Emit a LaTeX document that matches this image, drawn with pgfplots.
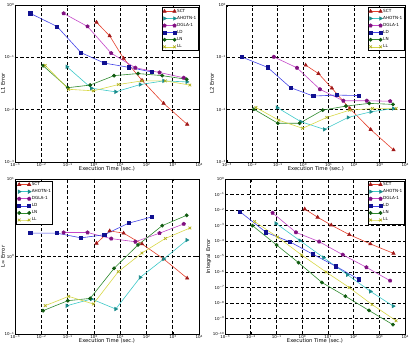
\documentclass[border=0pt]{standalone}
\usepackage{fontspec}
\setmainfont{DejaVu Sans}
\usepackage{pgfplots}
\pgfplotsset{compat=1.18}
\usetikzlibrary{plotmarks}

\definecolor{cSCT}{HTML}{E4402C}
\definecolor{dSCT}{HTML}{A01818}
\definecolor{cAH}{HTML}{3CC8C8}
\definecolor{dAH}{HTML}{1A8A8A}
\definecolor{cDG}{HTML}{C448C8}
\definecolor{dDG}{HTML}{801080}
\definecolor{cLD}{HTML}{4444E8}
\definecolor{dLD}{HTML}{101090}
\definecolor{cLN}{HTML}{2E8A2E}
\definecolor{dLN}{HTML}{105A10}
\definecolor{cLL}{HTML}{D8D848}
\definecolor{dLL}{HTML}{B0B020}

\newcommand\explabel{\pgfmathtruncatemacro\myexp{round(\tick)}10\raisebox{0.55ex}{\fontsize{2.8}{3}\selectfont\ifnum\myexp<0 −\number-\myexp\else\myexp\fi}}

\pgfplotsset{
  legend image code/.code={\draw[mark repeat=2,mark phase=1,#1] plot coordinates {(0pt,0pt) (5pt,0pt) (10pt,0pt)};},
  myax/.style={
    scale only axis, log basis x=10, log basis y=10,
    xmin=1e-3, xmax=1e4,
    xtickten={-3,...,4},
    grid=major,
    major grid style={black, line width=0.45pt, dash pattern=on 3.2pt off 2.2pt},
    axis line style={line width=0.6pt},
    tick style={black, line width=0.4pt},
    major tick length=2.5pt, minor tick length=1.4pt,
    tick align=inside,
    xticklabel={\explabel},
    yticklabel={\explabel},
    tick label style={font=\fontsize{4}{4}\selectfont},
    xticklabel style={inner sep=1pt},
    yticklabel style={inner sep=1pt},
    label style={font=\fontsize{5.2}{6}\selectfont},
    xlabel={Execution Time (sec.)},
    xlabel style={at={(axis description cs:0.5,-0.045)}, anchor=center},
    legend style={font=\fontsize{4.2}{4.5}\selectfont, draw=black, line width=0.4pt,
      inner sep=0.8pt, nodes={inner sep=0.7pt}, cells={anchor=west}, row sep=1.1pt},
  },
  sSCT/.style={color=cSCT, line width=0.6pt, mark size=1.9pt, mark=triangle*, mark options={solid, fill=dSCT, draw=dSCT}},
  sAH/.style={color=cAH, line width=0.6pt, mark size=1.9pt, mark=triangle*, mark options={solid, rotate=-90, fill=dAH, draw=dAH}},
  sDG/.style={color=cDG, line width=0.6pt, mark size=1.8pt, mark=pentagon*, mark options={solid, fill=dDG, draw=dDG}},
  sLD/.style={color=cLD, line width=0.6pt, mark size=1.6pt, mark=square*, mark options={solid, fill=dLD, draw=dLD}},
  sLN/.style={color=cLN, line width=0.6pt, mark size=1.6pt, mark=*, mark options={solid, fill=dLN, draw=dLN}},
  sLL/.style={color=cLL, line width=0.6pt, mark size=1.9pt, mark=x, mark options={solid, draw=dLL, line width=0.7pt}},
}

\begin{document}
\begin{tikzpicture}
% ---------------- Panel 1: L1 ----------------
\begin{loglogaxis}[myax, at={(15pt,186pt)}, anchor=south west, width=184pt, height=157pt,
  ymin=1e-3, ymax=1, ytickten={-3,...,0},
  ylabel={L1 Error}, ylabel style={at={(axis description cs:-0.065,0.5)}, anchor=center},
  legend style={at={(0.995,0.985)}, anchor=north east}]
\addplot[sSCT] coordinates {(1.26,0.468) (4.0,0.257) (13.5,0.0955) (68,0.0363) (450,0.0132) (3550,0.00525)};
\addlegendentry{SCT}
\addplot[sAH] coordinates {(0.095,0.0661) (0.81,0.0257) (6.8,0.0219) (58,0.0302) (455,0.0355) (3470,0.0339)};
\addlegendentry{AHOTN-1}
\addplot[sDG] coordinates {(0.0708,0.692) (0.575,0.389) (4.57,0.120) (38,0.0631) (316,0.0513) (2630,0.0407)};
\addlegendentry{DGLA-1}
\addplot[sLD] coordinates {(0.0038,0.692) (0.0398,0.389) (0.324,0.123) (2.51,0.0776) (20.9,0.0646) (158,0.0525)};
\addlegendentry{LD}
\addplot[sLN] coordinates {(0.0117,0.0692) (0.102,0.0263) (0.724,0.0295) (5.89,0.0447) (47.9,0.049) (398,0.0447) (3400,0.038)};
\addlegendentry{LN}
\addplot[sLL] coordinates {(0.0141,0.070) (0.110,0.0245) (0.955,0.0229) (8.51,0.0302) (67.6,0.0355) (525,0.0355) (4500,0.0295)};
\addlegendentry{LL}
\end{loglogaxis}

% ---------------- Panel 2: L2 ----------------
\begin{loglogaxis}[myax, at={(226.7pt,186pt)}, anchor=south west, width=178.3pt, height=157pt,
  ymin=1e-3, ymax=1, ytickten={-3,...,0},
  ylabel={L2 Error}, ylabel style={at={(axis description cs:-0.083,0.5)}, anchor=center},
  legend style={at={(0.995,0.985)}, anchor=north east}]
\addplot[sSCT] coordinates {(1.26,0.0708) (4.0,0.049) (13.5,0.0257) (68,0.0105) (450,0.00417) (3550,0.0017)};
\addlegendentry{SCT}
\addplot[sAH] coordinates {(0.095,0.011) (0.81,0.0059) (6.8,0.0042) (58,0.0071) (455,0.0091) (3470,0.0105)};
\addlegendentry{AHOTN-1}
\addplot[sDG] coordinates {(0.0708,0.102) (0.575,0.063) (4.57,0.0245) (38,0.0148) (316,0.0148) (2630,0.0145)};
\addlegendentry{DGLA-1}
\addplot[sLD] coordinates {(0.0038,0.102) (0.0398,0.0646) (0.324,0.0263) (2.51,0.0182) (20.9,0.019) (158,0.0186)};
\addlegendentry{LD}
\addplot[sLN] coordinates {(0.0117,0.0102) (0.102,0.0055) (0.724,0.0055) (5.89,0.0098) (47.9,0.0117) (398,0.0132) (3400,0.0126)};
\addlegendentry{LN}
\addplot[sLL] coordinates {(0.0141,0.011) (0.110,0.0063) (0.955,0.0044) (8.51,0.0071) (67.6,0.0098) (525,0.0105) (4500,0.0105)};
\addlegendentry{LL}
\end{loglogaxis}

% ---------------- Panel 3: Linf ----------------
\begin{loglogaxis}[myax, at={(15pt,14pt)}, anchor=south west, width=184pt, height=155pt,
  ymin=0.1, ymax=10, ytickten={-1,...,1},
  ylabel={L∞ Error}, ylabel style={at={(axis description cs:-0.065,0.5)}, anchor=center},
  legend style={at={(0.008,0.99)}, anchor=north west}]
\addplot[sSCT] coordinates {(1.26,1.48) (4.0,2.14) (13.5,2.0) (68,1.45) (450,0.93) (3550,0.525)};
\addlegendentry{SCT}
\addplot[sAH] coordinates {(0.095,0.232) (0.81,0.283) (6.8,0.21) (58,0.538) (455,0.929) (3470,1.63)};
\addlegendentry{AHOTN-1}
\addplot[sDG] coordinates {(0.0708,2.04) (0.575,2.04) (4.57,1.70) (38,1.55) (316,2.0) (2630,2.63)};
\addlegendentry{DGLA-1}
\addplot[sLD] coordinates {(0.0038,2.0) (0.0398,2.0) (0.324,1.74) (2.51,1.91) (20.9,2.69) (158,3.24)};
\addlegendentry{LD}
\addplot[sLN] coordinates {(0.0117,0.2) (0.102,0.269) (0.724,0.288) (5.89,0.703) (47.9,1.41) (398,2.5) (3400,3.4)};
\addlegendentry{LN}
\addplot[sLL] coordinates {(0.0141,0.232) (0.110,0.306) (0.955,0.244) (8.51,0.637) (67.6,1.11) (525,1.71) (4500,2.33)};
\addlegendentry{LL}
\end{loglogaxis}

% ---------------- Panel 4: Integral ----------------
\begin{loglogaxis}[myax, at={(225pt,14pt)}, anchor=south west, width=180pt, height=155pt,
  ymin=1e-10, ymax=1, ytickten={-10,...,0},
  ylabel={Integral Error}, ylabel style={at={(axis description cs:-0.09,0.5)}, anchor=center},
  legend style={at={(0.995,0.99)}, anchor=north east}]
\addplot[sSCT] coordinates {(1.26,1.15e-2) (4.0,3.4e-3) (13.5,1.07e-3) (68,2.57e-4) (450,6.5e-5) (3550,1.6e-5)};
\addlegendentry{SCT}
\addplot[sAH] coordinates {(0.095,1.38e-3) (0.81,1.07e-4) (6.8,8.5e-6) (58,6.6e-7) (455,5.6e-8) (3470,6.3e-9)};
\addlegendentry{AHOTN-1}
\addplot[sDG] coordinates {(0.0708,6.5e-3) (0.575,3.6e-4) (4.57,9.1e-5) (38,1.3e-5) (316,2e-6) (2630,2.75e-7)};
\addlegendentry{DGLA-1}
\addplot[sLD] coordinates {(0.0038,7.8e-3) (0.0398,3.6e-4) (0.324,9.1e-5) (2.51,1.45e-5) (20.9,2.3e-6) (158,3.4e-7)};
\addlegendentry{LD}
\addplot[sLN] coordinates {(0.0117,9.8e-4) (0.102,5.5e-5) (0.724,4e-6) (5.89,2.1e-7) (47.9,2.75e-8) (398,3.3e-9) (3400,4e-10)};
\addlegendentry{LN}
\addplot[sLL] coordinates {(0.0141,1.8e-3) (0.110,1.8e-4) (0.955,1.26e-5) (8.51,1e-6) (67.6,1e-7) (525,7.9e-9) (4500,7.2e-10)};
\addlegendentry{LL}
\end{loglogaxis}
\pgfresetboundingbox
\useasboundingbox (0,0) rectangle (412pt,348pt);
\end{tikzpicture}
\end{document}
